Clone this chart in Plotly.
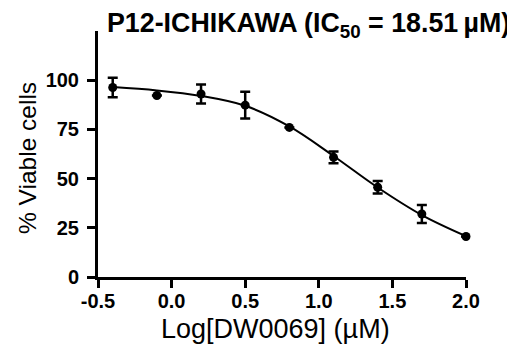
import plotly.graph_objects as go

# Data
log_conc = [-0.4, -0.1, 0.2, 0.5, 0.8, 1.1, 1.4, 1.7, 2.0]
viability = [96.3, 92.2, 93.0, 87.3, 76.0, 60.8, 45.6, 32.0, 20.6]
sem = [5.0, 0.0, 4.8, 6.8, 0.0, 3.0, 3.2, 4.6, 0.0]

# Fitted curve
curve_x = [-0.4, -0.1, 0.2, 0.5, 0.8, 1.1, 1.4, 1.7, 2.0]
curve_y = [96.5, 94.8, 92.0, 87.0, 76.5, 61.5, 45.5, 31.5, 20.8]

x_ticks = [-0.5, 0.0, 0.5, 1.0, 1.5, 2.0]
y_ticks = [0, 25, 50, 75, 100]

FONT = "Liberation Sans, Arial, Helvetica, sans-serif"

# plot area in pixels: x 90..458, y 23..269
L, R, T, B = 90, 458, 23, 269
def px_x(p):
    return (p - L) / (R - L)
def px_y(p):
    return (B - p) / (B - T)

fig = go.Figure()
fig.add_trace(go.Scatter(
    x=curve_x, y=curve_y, mode="lines",
    line=dict(color="black", width=2, shape="spline", smoothing=1.0),
    hoverinfo="skip", cliponaxis=False, showlegend=False))
fig.add_trace(go.Scatter(
    x=log_conc, y=viability, mode="markers",
    marker=dict(color="black", size=9),
    error_y=dict(type="data", array=sem, visible=True, color="black",
                 thickness=2.5, width=5),
    cliponaxis=False, showlegend=False))

fig.update_layout(
    width=515, height=344,
    margin=dict(l=L, r=515 - R, t=T, b=344 - B),
    paper_bgcolor="white", plot_bgcolor="white",
    font=dict(family=FONT, color="black"),
    xaxis=dict(
        range=[-0.5, 2.0], tickvals=x_ticks,
        ticktext=[f"{v:.1f}" for v in x_ticks],
        showgrid=False, zeroline=False, showline=True,
        linecolor="black", linewidth=3, ticks="outside",
        ticklen=8, tickwidth=3, tickcolor="black", ticklabelstandoff=-4,
        tickfont=dict(family=FONT, size=20, color="black", weight="bold"),
    ),
    yaxis=dict(
        range=[0, 125], tickvals=y_ticks,
        showgrid=False, zeroline=False, showline=True,
        linecolor="black", linewidth=3, ticks="outside",
        ticklen=8, tickwidth=3, tickcolor="black", ticklabelstandoff=4,
        tickfont=dict(family=FONT, size=20, color="black", weight="bold"),
    ),
    annotations=[
        dict(text="P12-ICHIKAWA (IC<sub>50</sub> = 18.51\u2009µM)",
             xref="paper", yref="paper", x=px_x(97), y=px_y(17),
             xanchor="left", yanchor="middle", showarrow=False,
             font=dict(family=FONT, size=26.8, color="black", weight="bold")),
        dict(text="Log[DW0069] (µM)",
             xref="paper", yref="paper", x=px_x(267), y=px_y(321),
             xanchor="center", yanchor="middle", showarrow=False,
             font=dict(family=FONT, size=27, color="black")),
        dict(text="% Viable cells", textangle=-90,
             xref="paper", yref="paper", x=px_x(19), y=px_y(150),
             xanchor="center", yanchor="middle", showarrow=False,
             font=dict(family=FONT, size=24.5, color="black")),
    ],
)

fig.write_html("out.html")
